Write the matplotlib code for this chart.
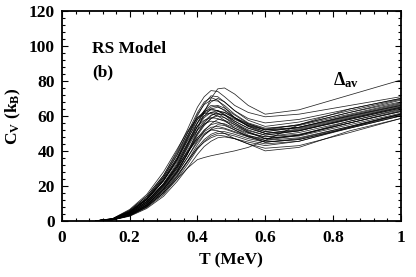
import matplotlib
matplotlib.use("Agg")
import matplotlib.pyplot as plt
from matplotlib.ticker import MultipleLocator

plt.rcParams['font.family'] = ['Liberation Serif', 'DejaVu Serif']
plt.rcParams['font.weight'] = 'bold'
plt.rcParams['mathtext.fontset'] = 'custom'
plt.rcParams['mathtext.rm'] = 'Liberation Serif:bold'
plt.rcParams['mathtext.bf'] = 'Liberation Serif:bold'
plt.rcParams['mathtext.it'] = 'Liberation Serif:bold'

# temperature grid (MeV)
T = [0.10, 0.15, 0.20, 0.25, 0.30, 0.34, 0.37, 0.40, 0.42, 0.44, 0.46, 0.48, 0.51, 0.55, 0.60, 0.70, 0.85, 1.00]

# specific heat curves C_V (k_B), one per sample
cv_a = [0, 0.6, 3.5, 9, 18, 28, 38, 52, 62, 70, 75.5, 76, 72.5, 66, 61, 63.5, 72, 80.5]
cv_b = [0, 1.2, 6, 14, 26, 40, 52, 65, 71, 74.5, 74, 71, 66, 62, 59.5, 61, 66, 71]
cv_c = [0, 1, 5, 12, 23, 35, 47, 60, 67, 71.5, 71, 68, 63, 58.5, 56, 58, 64, 70]
cv_d = [0, 0.9, 4.5, 11, 21, 32, 43, 56, 63, 68, 70, 68, 63, 57.5, 54, 56.5, 63, 69.5]
cv_e = [0, 1.1, 5.5, 13, 25, 38, 50, 62, 68, 70.5, 69, 65, 59, 54, 51, 53.5, 60, 66]
cv_f = [0, 1, 5, 12, 23, 35, 46, 58, 63, 66, 65.5, 63, 59, 55, 52, 55, 62, 68]
cv_g = [0, 0.8, 4, 10, 20, 31, 42, 54, 60, 64, 65, 63.5, 59, 54, 50, 52, 58.5, 65]
cv_h = [0, 1.2, 6, 14, 26, 39, 50, 59, 62.5, 64, 63, 60.5, 56, 51, 47, 49, 56, 62.5]
cv_i = [0, 0.9, 4.5, 11, 21, 32, 43, 54, 59, 62, 63, 62, 58.5, 54.5, 51, 53.5, 60.5, 67]
cv_j = [0, 0.7, 3.5, 9, 18, 28, 38, 50, 56, 60, 62.5, 62, 59, 55.5, 52.5, 55, 62, 69]
cv_k = [0, 1, 5, 12.5, 24, 36, 47, 56, 60, 62, 61.5, 59, 55, 50.5, 47, 48.5, 55, 61.5]
cv_l = [0, 0.8, 4.2, 10.5, 20.5, 31, 41.5, 52, 57, 60.5, 61.5, 60.5, 57, 53, 50, 52.5, 59, 65.5]
cv_m = [0, 1.3, 6.5, 15, 28, 41, 51, 59, 61.5, 61.5, 60, 57.5, 53, 49, 46, 47.5, 54, 61]
cv_n = [0, 0.8, 4, 10, 19.5, 30, 40, 50, 55, 58.5, 60, 59, 56, 52, 49, 51.5, 58, 64.5]
cv_o = [0, 0.6, 3.2, 8.5, 17, 27, 36, 46, 51.5, 55.5, 58, 57.5, 55, 51.5, 49, 51.5, 58.5, 65]
cv_p = [0, 1, 5, 12, 23, 34, 44, 52, 55.5, 57, 56.5, 55, 52, 48.5, 45, 46.5, 53, 60]
cv_q = [0, 0.7, 3.8, 9.5, 19, 29, 38.5, 47.5, 52, 55, 56, 55.5, 53, 50, 48, 50.5, 57, 63.5]
cv_r = [0, 0.6, 3, 8, 16, 25.5, 34, 43.5, 49, 52.5, 55, 54.5, 52, 48, 45, 47, 54, 61]
cv_s = [0, 0.7, 3.6, 9, 18, 27.5, 36, 45, 49, 52, 53, 52.5, 50.5, 48, 46, 49, 57, 64]
cv_t = [0, 0.9, 4.5, 11, 21, 31, 39, 46.5, 50, 52, 51.5, 50, 47, 44, 41.5, 43, 50.5, 58.5]
cv_u = [0, 0.5, 2.8, 7.5, 15, 24, 32, 41, 45.5, 48.5, 50, 50, 48.5, 46, 44, 45.5, 53, 60]
cv_v = [0, 0.6, 3.2, 8.5, 17, 26, 34, 41.5, 45, 47.5, 49, 48.5, 47, 45, 43, 45.5, 53.5, 61]
cv_w = [0, 0.5, 2.6, 7, 14, 22.5, 30, 38, 42.5, 45.5, 47.5, 48, 47, 44, 40, 42, 51.5, 58.5]
cv_x = [0, 0.6, 3, 8, 16, 24, 30, 35, 36.2, 37.2, 38, 38.8, 40, 42, 46, 55, 64, 70]
cv_y = [0, 1.1, 5.5, 13, 25, 37.5, 48.5, 58, 61.5, 63.5, 63, 61, 57, 53, 50, 51.5, 58, 64.5]
cv_z = [0, 1, 5, 12, 23, 35, 45.5, 54, 57.5, 59, 58.5, 57, 54, 50.5, 48, 49.5, 56, 62.5]
cv_aa = [0, 0.7, 3.6, 9, 18.5, 28.5, 38, 49, 54.5, 58.5, 61, 60.5, 58, 54.5, 52, 53.5, 60, 66.5]
cv_ab = [0, 0.8, 4, 10, 20, 30, 39.5, 47.5, 51, 53.5, 54, 53, 51, 48.5, 47, 49, 56, 63]
cv_ac = [0, 0.9, 4.5, 11, 21.5, 33, 44, 56, 62, 65, 66, 64.5, 60.5, 55.5, 52, 53, 59.5, 66]
cv_ad = [0, 0.6, 3, 8, 16, 25, 33.5, 42, 46.5, 49.5, 51, 51, 49.5, 47, 45, 46.5, 53.5, 60.5]
cv_ae = [0, 1, 5.2, 12.5, 24, 36, 48, 61, 66.5, 69, 68.5, 66, 61, 56, 53, 54.5, 61, 67.5]

curves = [cv_a, cv_b, cv_c, cv_d, cv_e, cv_f, cv_g, cv_h, cv_i, cv_j, cv_k, cv_l,
          cv_m, cv_n, cv_o, cv_p, cv_q, cv_r, cv_s, cv_t, cv_u, cv_v, cv_w, cv_x,
          cv_y, cv_z, cv_aa, cv_ab, cv_ac, cv_ad, cv_ae]

fig = plt.figure(figsize=(4.16, 2.77), dpi=100)
ax = fig.add_axes([0.149, 0.203, 0.814, 0.757])

for cv in curves:
    ax.plot(T, cv, color='black', lw=0.55, alpha=0.85)

ax.set_xlim(0, 1)
ax.set_ylim(0, 120)
ax.xaxis.set_major_locator(MultipleLocator(0.2))
ax.xaxis.set_minor_locator(MultipleLocator(0.04))
ax.yaxis.set_major_locator(MultipleLocator(20))
ax.yaxis.set_minor_locator(MultipleLocator(4))
ax.set_xticks([0, 0.2, 0.4, 0.6, 0.8, 1.0])
ax.set_xticklabels(['0', '0.2', '0.4', '0.6', '0.8', '1'])
ax.tick_params(which='both', direction='in', top=True, right=True, labelsize=12.5, width=0.8)
ax.tick_params(which='major', length=4.5, pad=5)
ax.tick_params(axis='x', which='major', pad=6.5)
ax.tick_params(which='minor', length=2.2)
for lab in ax.get_xticklabels() + ax.get_yticklabels():
    lab.set_fontweight('bold')
for sp in ax.spines.values():
    sp.set_linewidth(1.3)

ax.set_xlabel('T (MeV)', fontsize=12.5, fontweight='bold', labelpad=4.5)
ax.set_ylabel(r'C$_{\rm V}$ (k$_{\rm B}$)', fontsize=12.5, fontweight='bold', labelpad=4)

ax.text(0.09, 98.5, 'RS Model', fontsize=12.5, fontweight='bold', va='center', ha='left')
ax.text(0.09, 85, '(b)', fontsize=12.5, fontweight='bold', va='center', ha='left')
ax.text(0.80, 80.5, r'Δ$_{\rm av}$', fontsize=13, va='center', ha='left')

fig.savefig('out.png', dpi=100)
